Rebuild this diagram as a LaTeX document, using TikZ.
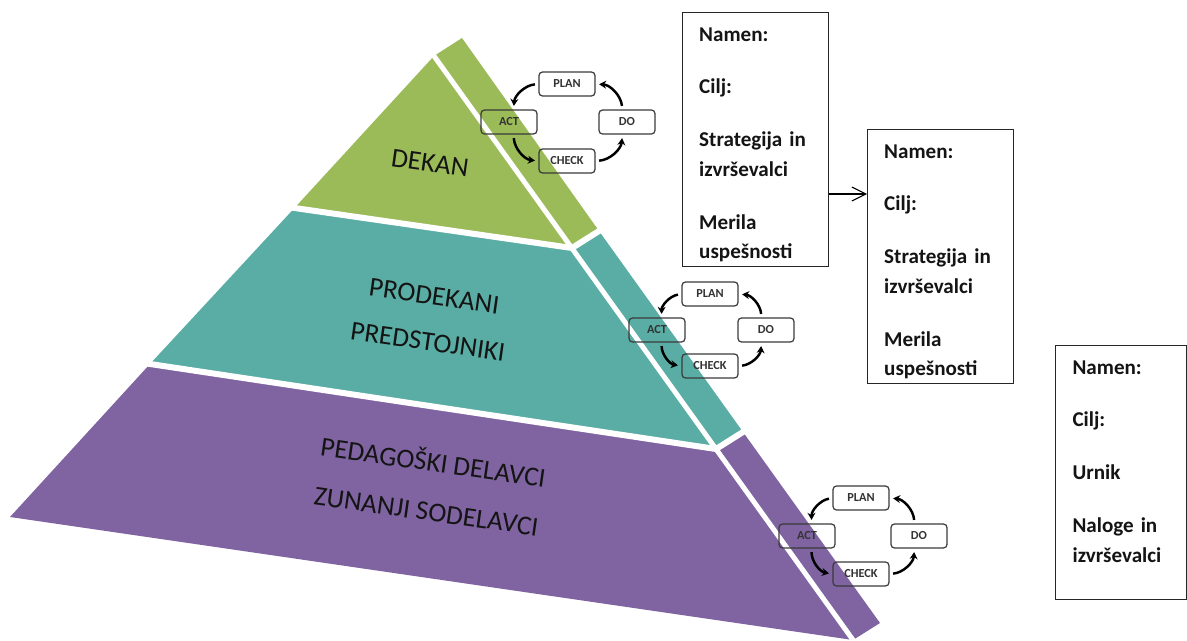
\documentclass[tikz,border=0pt]{standalone}
\usepackage{fontspec}
\setmainfont{Carlito}
\usepackage{xcolor}
\usepackage{tikz}
\usetikzlibrary{arrows.meta}
\definecolor{PyGreen}{HTML}{9BBB59}
\definecolor{PyTeal}{HTML}{5AADA4}
\definecolor{PyPurple}{HTML}{8064A2}
\definecolor{PyText}{HTML}{141414}
\definecolor{PdcaLine}{HTML}{3A3A3A}

\begin{document}
\begin{tikzpicture}[x=0.02cm,y=0.02cm,
  layerlabel/.style={font=\fontsize{15.5}{26}\selectfont,text=PyText,align=center,rotate=-8},
  infobox/.style={draw=black!85,line width=.6pt,anchor=north west,align=left,inner ysep=8.5pt,text depth=120pt,font=\fontsize{12}{17}\selectfont\bfseries,text=PyText},
  pdca/.style={draw=PdcaLine,line width=.7pt,rounded corners=2pt,minimum width=1.12cm,minimum height=.48cm,inner sep=0pt,font=\fontsize{7}{8}\selectfont\bfseries,text=black!80},
  cyc/.style={line width=1.4pt,-{Stealth[length=4pt,width=4.5pt]},bend right=40,shorten <=2pt,shorten >=2pt},
  gap/.style={white,line width=.12cm,shorten <=-4pt,shorten >=-4pt},
  flow/.style={line width=.6pt,-{Straight Barb[length=8pt,width=8pt]}}]
\path[use as bounding box] (0,0) rectangle (1187,640);
\coordinate (apex) at (434,584);
\coordinate (top) at (462,602);
\coordinate (left) at (10,123);
\coordinate (foot) at (853,0);
\coordinate (back) at (880,17);
\coordinate (g1) at (294.5,432);
\coordinate (c1) at (572,392);
\coordinate (s1) at (599,409);
\coordinate (g2) at (150,276);
\coordinate (c2) at (716,191);
\coordinate (s2) at (743,208);
\fill[PyGreen] (apex) -- (top) -- (s1) -- (c1) -- (g1) -- cycle;
\fill[PyTeal] (g1) -- (c1) -- (s1) -- (s2) -- (c2) -- (g2) -- cycle;
\fill[PyPurple] (g2) -- (c2) -- (s2) -- (back) -- (foot) -- (left) -- cycle;
\draw[gap] (g1) -- (c1) -- (s1);
\draw[gap] (g2) -- (c2) -- (s2);
\draw[gap,line width=.1cm] (apex) -- (foot);
\node[layerlabel] (dekan) at (430,477) {DEKAN};
\node[layerlabel] (prodekani) at (431,321) {PRODEKANI\\PREDSTOJNIKI};
\node[layerlabel] (pedagoski) at (430,155) {PEDAGOŠKI DELAVCI\\[2pt]ZUNANJI SODELAVCI};
\node[infobox,text width=64pt,inner xsep=9.5pt] (box1) at (682,628) {Namen:\\[13pt]Cilj:\\[13pt]Strategija in\\izvrševalci\\[13pt]Merila\\uspešnosti};
\node[infobox,text width=64pt,inner xsep=9.5pt] (box2) at (867,511) {Namen:\\[13pt]Cilj:\\[13pt]Strategija in\\izvrševalci\\[13pt]Merila\\uspešnosti};
\node[infobox,text width=55pt,inner xsep=9.7pt] (box3) at (1055,295) {Namen:\\[13pt]Cilj:\\[13pt]Urnik\\[13pt]Naloge in\\izvrševalci};
\draw[flow] (box1.east |- 0,446) -- (box2.west |- 0,446);
\node[pdca] (plan1) at (567,556) {PLAN};
\node[pdca] (do1) at (627,518) {DO};
\node[pdca] (check1) at (567,479) {CHECK};
\node[pdca] (act1) at (509,518) {ACT};
\draw[cyc] (plan1.west) to (act1.70);
\draw[cyc] (act1.290) to (check1.west);
\draw[cyc] (check1.east) to (do1.250);
\draw[cyc] (do1.110) to (plan1.east);
\node[pdca] (plan2) at (710,346) {PLAN};
\node[pdca] (do2) at (766,310) {DO};
\node[pdca] (check2) at (710,274) {CHECK};
\node[pdca] (act2) at (657,310) {ACT};
\draw[cyc] (plan2.west) to (act2.70);
\draw[cyc] (act2.290) to (check2.west);
\draw[cyc] (check2.east) to (do2.250);
\draw[cyc] (do2.110) to (plan2.east);
\node[pdca] (plan3) at (861,142) {PLAN};
\node[pdca] (do3) at (919,104) {DO};
\node[pdca] (check3) at (861,66) {CHECK};
\node[pdca] (act3) at (807,104) {ACT};
\draw[cyc] (plan3.west) to (act3.70);
\draw[cyc] (act3.290) to (check3.west);
\draw[cyc] (check3.east) to (do3.250);
\draw[cyc] (do3.110) to (plan3.east);
\end{tikzpicture}
\end{document}
